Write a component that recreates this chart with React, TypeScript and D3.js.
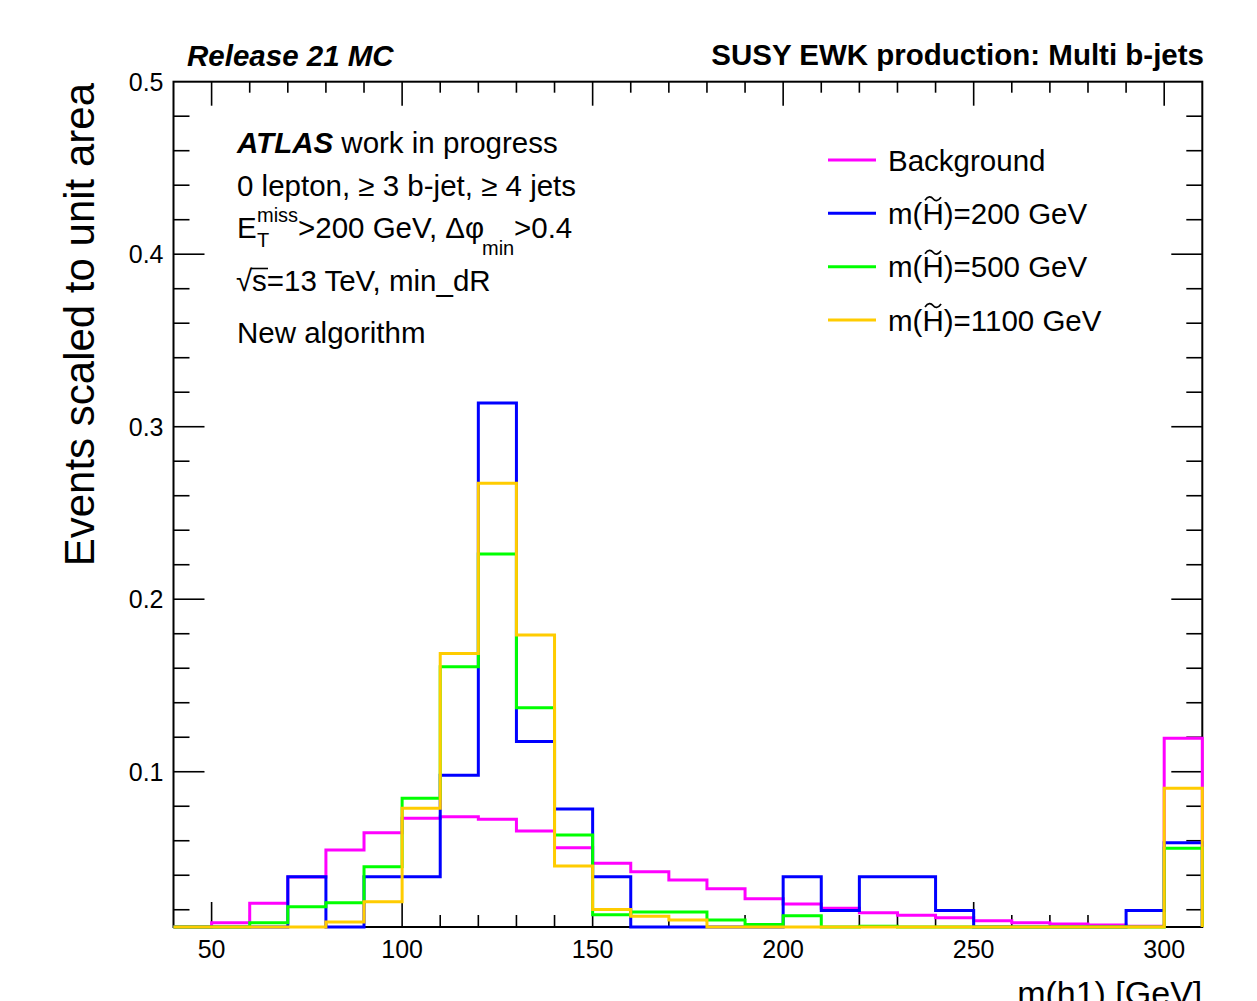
import React from "react";
import * as d3 from "d3";

// m(h1) histogram, 10 GeV bins; each entry is the lower bin edge in GeV
const massBins = [
  40, 50, 60, 70, 80, 90, 100, 110, 120, 130, 140, 150, 160, 170, 180, 190,
  200, 210, 220, 230, 240, 250, 260, 270, 280, 290, 300,
];
const binWidth = 10;

// Normalised bin contents (events scaled to unit area)
const background = [
  0.006, 0.0125, 0.0237, 0.039, 0.0546, 0.0646, 0.073, 0.0739, 0.0724, 0.0656,
  0.0559, 0.0469, 0.042, 0.0372, 0.0322, 0.0264, 0.0233, 0.0208, 0.0183,
  0.0168, 0.0154, 0.0136, 0.0125, 0.0117, 0.0111, 0.0105, 0.1194,
];
const higgsino200 = [
  0, 0, 0, 0.0392, 0, 0.0392, 0.0392, 0.098, 0.3137, 0.1176, 0.0784, 0.0392, 0,
  0, 0, 0, 0.0392, 0.0196, 0.0392, 0.0392, 0.0196, 0, 0, 0, 0, 0.0196, 0.0588,
];
const higgsino500 = [
  0.004, 0.006, 0.0125, 0.0217, 0.024, 0.0449, 0.0846, 0.1609, 0.2262, 0.1371,
  0.0633, 0.0171, 0.0187, 0.0187, 0.014, 0.0115, 0.0165, 0.008, 0.0105, 0.006,
  0.005, 0.005, 0.004, 0.004, 0.004, 0.004, 0.0556,
];
const higgsino1100 = [
  0.002, 0.003, 0.004, 0.006, 0.0129, 0.0246, 0.0788, 0.1686, 0.2672, 0.1792,
  0.0453, 0.0202, 0.0163, 0.014, 0.008, 0.007, 0.007, 0.006, 0.006, 0.006,
  0.005, 0.005, 0.005, 0.005, 0.004, 0.004, 0.0904,
];

const seriesNames = ["Background", "200", "500", "1100"];
const seriesColors = ["#ff00ff", "#0000ff", "#00ff00", "#ffcc00"];
const seriesValues = [background, higgsino200, higgsino500, higgsino1100];

const xMajorTicks = [50, 100, 150, 200, 250, 300];
const yMajorTicks = [0.1, 0.2, 0.3, 0.4, 0.5];

const FONT = "'Liberation Sans', Arial, Helvetica, sans-serif";

const W = 1257;
const H = 1001;
const frame = { left: 173.5, right: 1202.3, top: 81.7, bottom: 927 };

export default function App() {
  const x = d3.scaleLinear().domain([40, 310]).range([frame.left, frame.right]);
  const y = d3.scaleLinear().domain([0.01, 0.5]).range([frame.bottom, frame.top]);
  const [yMin, yMax] = y.domain();

  const xMinorTicks = d3.range(50, 310, binWidth);
  const yMinorTicks = d3.range(0.02, 0.5, 0.02).filter((v) => v > yMin);

  const line = d3
    .line<[number, number]>()
    .x((d) => x(d[0]))
    .y((d) => y(Math.max(yMin, Math.min(yMax, d[1]))));

  const histPath = (vals: number[]) => {
    const pts: [number, number][] = [[massBins[0], yMin]];
    massBins.forEach((lo, i) => {
      pts.push([lo, vals[i]]);
      pts.push([lo + binWidth, vals[i]]);
    });
    pts.push([massBins[massBins.length - 1] + binWidth, yMin]);
    return line(pts) as string;
  };

  const legendX0 = 828;
  const legendX1 = 876;
  const legendTextX = 888;
  const legendY = [160, 213.3, 266.7, 320];
  const legendFont = 29.5;
  const textFont = 29.5;

  // width of "m(" at the legend size, to place the tilde over the H
  const hCenter = legendTextX + (0.833 + 0.333 + 0.361) * legendFont;

  const tilde = (cx: number, cy: number) =>
    `M${cx - 8},${cy + 1.5} C${cx - 5},${cy - 3} ${cx - 2},${cy - 2.5} ${cx},${cy} S${cx + 5},${cy + 3} ${cx + 8},${cy - 1.5}`;

  return (
    <svg
      width={W}
      height={H}
      style={{ position: "absolute", left: 0, top: 0, background: "#fff" }}
      fontFamily={FONT}
    >
      <rect x={0} y={0} width={W} height={H} fill="#fff" />

      {/* axis frame */}
      <rect
        x={frame.left}
        y={frame.top}
        width={frame.right - frame.left}
        height={frame.bottom - frame.top}
        fill="none"
        stroke="#000"
        strokeWidth={2}
      />

      {/* x ticks, bottom and top */}
      {xMinorTicks.map((v) => {
        const major = xMajorTicks.includes(v);
        return (
          <g key={"xt" + v} stroke="#000" strokeWidth={1.6}>
            <line x1={x(v)} x2={x(v)} y1={frame.bottom} y2={frame.bottom - (major ? 25 : 12)} />
            <line x1={x(v)} x2={x(v)} y1={frame.top} y2={frame.top + (major ? 24 : 11)} />
          </g>
        );
      })}
      {/* y ticks, left and right */}
      {yMinorTicks.map((v) => {
        const major = yMajorTicks.some((m) => Math.abs(m - v) < 1e-6);
        return (
          <g key={"yt" + v.toFixed(2)} stroke="#000" strokeWidth={1.6}>
            <line x1={frame.left} x2={frame.left + (major ? 31 : 16)} y1={y(v)} y2={y(v)} />
            <line x1={frame.right} x2={frame.right - (major ? 31 : 16)} y1={y(v)} y2={y(v)} />
          </g>
        );
      })}

      {/* tick labels */}
      {xMajorTicks.map((v) => (
        <text key={"xl" + v} x={x(v)} y={958} fontSize={25} textAnchor="middle" fill="#000">
          {v}
        </text>
      ))}
      {yMajorTicks.map((v) => (
        <text
          key={"yl" + v}
          x={163.5}
          y={y(v) + 9}
          fontSize={25}
          textAnchor="end"
          fill="#000"
        >
          {d3.format(".1f")(v)}
        </text>
      ))}

      {/* axis titles */}
      <text x={frame.right} y={1005} fontSize={34} textAnchor="end" fill="#000">
        m(h1) [GeV]
      </text>
      <text
        transform={`translate(93.5, 83) rotate(-90)`}
        fontSize={42}
        textAnchor="end"
        fill="#000"
      >
        Events scaled to unit area
      </text>

      {/* histograms */}
      {seriesValues.map((vals, i) => (
        <path
          key={"h" + i}
          d={histPath(vals)}
          fill="none"
          stroke={seriesColors[i]}
          strokeWidth={3}
          strokeLinejoin="miter"
        />
      ))}

      {/* header labels */}
      <text x={187} y={66} fontSize={29.5} fontWeight="bold" fontStyle="italic" fill="#000">
        Release 21 MC
      </text>
      <text x={1204} y={65} fontSize={29.5} fontWeight="bold" textAnchor="end" fill="#000">
        SUSY EWK production: Multi b-jets
      </text>

      {/* selection text */}
      <g fill="#000" fontSize={textFont}>
        <text x={237} y={153}>
          <tspan fontWeight="bold" fontStyle="italic">ATLAS</tspan>
          <tspan> work in progress</tspan>
        </text>
        <text x={237} y={196}>0 lepton, ≥ 3 b-jet, ≥ 4 jets</text>
        <text x={237} y={238}>E</text>
        <text x={257} y={222} fontSize={20}>miss</text>
        <text x={257} y={247} fontSize={20}>T</text>
        <text x={298} y={238}>&gt;200 GeV, Δφ</text>
        <text x={482} y={255} fontSize={20}>min</text>
        <text x={514} y={238}>&gt;0.4</text>
        <text x={236} y={291}>√</text>
        <line x1={251} x2={268} y1={268.5} y2={268.5} stroke="#000" strokeWidth={1.6} />
        <text x={252} y={291}>s=13 TeV, min_dR</text>
        <text x={237} y={343}>New algorithm</text>
      </g>

      {/* legend */}
      {seriesNames.map((name, i) => (
        <g key={"lg" + i}>
          <line
            x1={legendX0}
            x2={legendX1}
            y1={legendY[i]}
            y2={legendY[i]}
            stroke={seriesColors[i]}
            strokeWidth={3}
          />
          <text x={legendTextX} y={legendY[i] + 10.5} fontSize={legendFont} fill="#000">
            {i === 0 ? name : `m(H)=${name} GeV`}
          </text>
          {i > 0 && (
            <path
              d={tilde(hCenter, legendY[i] + 10.5 - 25)}
              fill="none"
              stroke="#000"
              strokeWidth={1.7}
            />
          )}
        </g>
      ))}
    </svg>
  );
}
